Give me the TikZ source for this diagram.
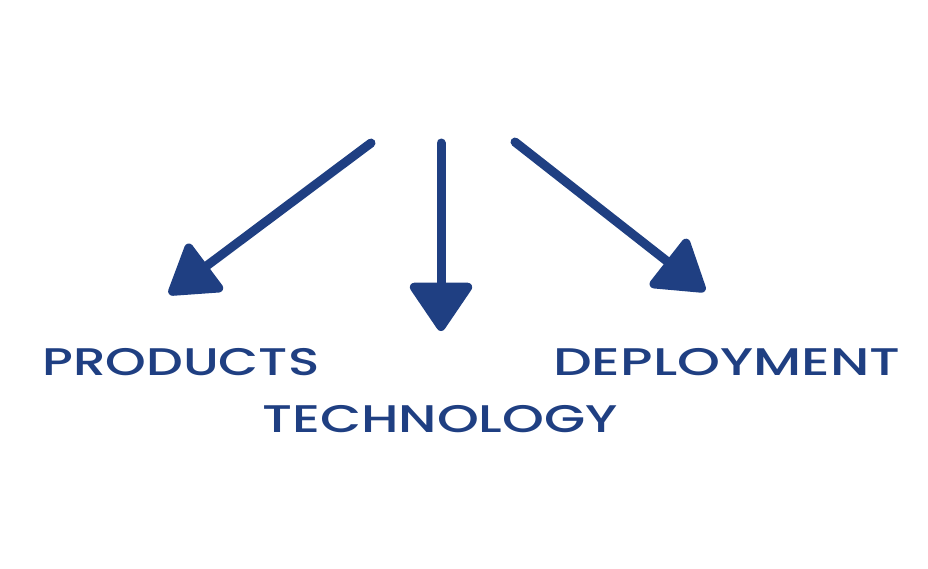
\documentclass[tikz,border=0pt]{standalone}
\usepackage{fontspec}
\usetikzlibrary{arrows.meta}
\newfontfamily\labelfont{Poppins Medium}
\definecolor{navy}{HTML}{1F3F82}
\begin{document}
\begin{tikzpicture}[x=1pt,y=-1pt,
  conn/.style={navy,line width=9pt,line cap=round},
  lbl/.style={navy,inner sep=0pt,anchor=base west,font=\labelfont\fontsize{38.5}{42}\selectfont}]
\useasboundingbox (0,0) rectangle (928,568);
\coordinate (s1) at (371,143);
\coordinate (t1) at (169,294);
\coordinate (s2) at (441,143);
\coordinate (t2) at (441,331);
\coordinate (s3) at (515,142);
\coordinate (t3) at (705,291);
\draw[conn,-{Triangle[length=52pt,width=64pt,round]}] (s1) -- (t1);
\draw[conn,-{Triangle[length=52pt,width=68pt,round]}] (s2) -- (t2);
\draw[conn,-{Triangle[length=53pt,width=66pt,round]}] (s3) -- (t3);
\node[lbl] (products) at (42,375) {\scalebox{1.346}[1]{PRODUCTS}};
\node[lbl] (technology) at (262,432) {\scalebox{1.383}[1]{TECHNOLOGY}};
\node[lbl] (deployment) at (553,375) {\scalebox{1.419}[1]{DEPLOYMENT}};
\end{tikzpicture}
\end{document}
